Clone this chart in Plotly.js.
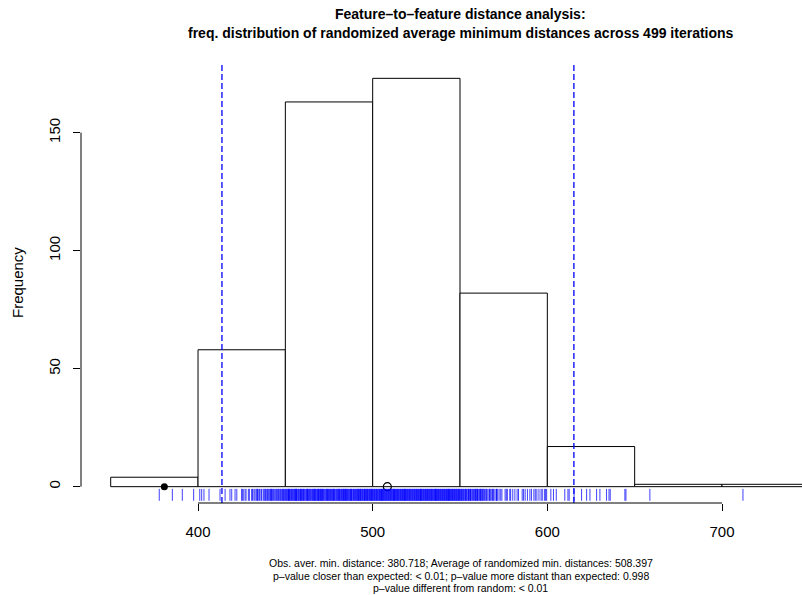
<!DOCTYPE html>
<html>
<head>
<meta charset="utf-8">
<script src="https://cdn.plot.ly/plotly-3.0.1.min.js"></script>
<style>html,body{margin:0;padding:0;background:#fff;}#chart{width:802px;height:595px;}</style>
</head>
<body>
<div id="chart"></div>
<script>
// ---- data ----
const breaks = [350, 400, 450, 500, 550, 600, 650, 700, 750];
const counts = [4, 58, 163, 173, 82, 17, 1, 1];
const xTicks = [400, 500, 600, 700];
const yTicks = [0, 50, 100, 150];
const ciBounds = [413.7, 615.2];
const observedDistance = 380.718;
const randomizedMean = 508.397;
const titleLines = [
  "Feature\u2013to\u2013feature distance analysis:",
  "freq. distribution of randomized average minimum distances across 499 iterations"
];
const yTitle = "Frequency";
const subLines = [
  "Obs. aver. min. distance: 380.718; Average of randomized min. distances: 508.397",
  "p\u2013value closer than expected: < 0.01; p\u2013value more distant than expected: 0.998",
  "p\u2013value different from random: < 0.01"
];
const rug350 = [377.8, 385.3, 391.0, 397.5];
const rug400 = [401.0, 402.1, 403.4, 406.3, 412.6, 415.5, 418.3, 419.3, 421.2, 422.2, 425.0, 425.9, 426.9, 428.8, 430.7, 432.6, 434.5, 436.4, 437.3, 438.3, 439.3, 440.2, 441.2, 443.1, 444.0, 445.9, 446.8, 448.7,
  425.3, 427.5, 429.4, 431.2, 432.0, 433.3, 434.0, 435.2, 436.0, 437.8, 438.6, 439.8, 440.7, 441.6, 442.0, 442.6, 443.5, 444.5, 445.0, 445.4, 446.2, 447.1, 447.5, 448.0, 448.3, 449.0, 449.4, 449.8, 433.8, 441.9];
const rug450 = [450.2, 450.5, 450.9, 451.1, 451.6, 451.8, 452.3, 452.5, 452.9, 453.4,
  453.6, 454.0, 454.3, 454.8, 455.0, 455.4, 455.9, 456.1, 456.5, 456.7,
  457.2, 457.5, 457.9, 458.3, 458.6, 458.8, 459.3, 459.7, 460.0, 460.4,
  460.6, 461.1, 461.3, 461.8, 462.2, 462.4, 462.9, 463.1, 463.5, 463.9,
  464.2, 464.6, 464.8, 465.3, 465.6, 466.0, 466.3, 466.5, 467.0, 467.2,
  467.7, 468.1, 468.3, 468.7, 469.0, 469.5, 469.8, 470.1, 470.4, 470.9,
  471.2, 471.4, 471.9, 472.1, 472.6, 472.8, 473.3, 473.6, 473.9, 474.4,
  474.6, 475.0, 475.3, 475.8, 476.0, 476.5, 476.7, 477.1, 477.6, 477.9,
  478.2, 478.5, 479.0, 479.2, 479.7, 480.0, 480.3, 480.6, 481.1, 481.3,
  481.7, 482.1, 482.3, 482.8, 483.0, 483.5, 483.8, 484.1, 484.4, 484.9,
  485.1, 485.6, 485.8, 486.2, 486.6, 486.9, 487.3, 487.5, 488.0, 488.2,
  488.7, 489.0, 489.3, 489.6, 490.1, 490.3, 490.8, 491.0, 491.4, 491.8,
  492.0, 492.5, 492.7, 493.2, 493.4, 493.8, 494.2, 494.4, 494.9, 495.1,
  495.5, 495.9, 496.2, 496.5, 496.8, 497.3, 497.5, 498.0, 498.2, 498.6,
  498.9, 499.3, 499.6, 499.8, 452.0, 455.6, 459.0, 462.7, 466.8, 470.6,
  474.2, 477.4, 480.8, 484.6, 487.8, 491.6, 495.3, 497.0, 499.1, 456.3, 468.9, 483.3, 493.0];
const rug500 = [500.1, 500.4, 500.8, 501.0, 501.3, 501.7, 502.0, 502.2, 502.6, 502.9,
  503.1, 503.5, 503.8, 504.0, 504.4, 504.7, 504.9, 505.3, 505.6, 505.8,
  506.2, 506.5, 506.7, 507.1, 507.4, 507.7, 508.0, 508.2, 508.6, 508.9,
  509.1, 509.5, 509.8, 510.1, 510.3, 510.7, 511.0, 511.2, 511.6, 511.9,
  512.1, 512.5, 512.8, 513.0, 513.4, 513.7, 514.0, 514.2, 514.6, 514.9,
  515.1, 515.5, 515.8, 516.0, 516.4, 516.7, 517.0, 517.2, 517.6, 517.9,
  518.1, 518.5, 518.8, 519.1, 519.3, 519.7, 520.0, 520.2, 520.6, 520.9,
  521.1, 521.5, 521.8, 522.0, 522.4, 522.7, 523.0, 523.2, 523.6, 523.9,
  524.2, 524.4, 524.8, 525.1, 525.3, 525.7, 526.0, 526.2, 526.6, 526.9,
  527.2, 527.4, 527.8, 528.1, 528.3, 528.7, 529.0, 529.3, 529.5, 529.9,
  530.2, 530.4, 530.8, 531.1, 531.4, 531.6, 532.0, 532.3, 532.5, 532.9,
  533.2, 533.5, 533.7, 534.1, 534.4, 534.6, 535.0, 535.3, 535.6, 535.8,
  536.2, 536.5, 536.7, 537.1, 537.4, 537.7, 537.9, 538.3, 538.6, 538.9,
  539.1, 539.5, 539.8, 540.0, 540.4, 540.7, 541.0, 541.2, 541.6, 541.9,
  542.2, 542.4, 542.8, 543.1, 543.3, 543.7, 544.0, 544.3, 544.5, 544.9,
  545.2, 545.5, 545.7, 546.1, 546.4, 546.7, 546.9, 547.3, 547.6, 547.9,
  548.2, 548.4, 548.8, 549.1, 549.3, 549.7, 549.9, 505.0, 512.3, 518.3,
  527.6, 536.0, 543.5];
const rug550 = [550.3, 550.8, 551.2, 551.6, 552.0, 552.4, 552.9, 553.3, 553.7, 554.1, 554.6, 555.0, 555.5, 555.9, 556.3, 556.8, 557.2, 557.7, 558.1, 558.5, 559.0, 559.4, 559.9, 560.3, 560.8, 561.2, 561.7, 562.1, 562.6, 563.2, 563.7, 564.1, 564.8, 565.4, 566.0, 566.7, 567.3, 567.9, 568.6, 569.4, 570.1, 570.9, 571.6, 572.4, 573.3,
  574.0, 575.8, 577.1, 578.5, 579.0, 580.2, 582.7, 583.5, 585.6, 586.4, 588.6, 590.0, 590.9, 592.3, 593.1, 594.0, 595.2, 596.4, 597.1, 598.3, 599.0, 599.6,
  551.0, 553.0, 554.9, 556.0, 558.8, 560.0, 561.9, 563.0, 565.0, 567.0, 569.0, 571.0, 576.5, 581.4, 587.3];
const rug600 = [602.0, 603.5, 605.1, 610.0, 611.8, 612.5, 615.3, 619.6, 622.5, 624.4, 628.2, 630.1, 633.9, 635.3, 636.0, 644.4, 645.0];
const rug650 = [658.7];
const rug700 = [712.0];

// ---- build ----
const rugValues = [].concat(rug350, rug400, rug450, rug500, rug550, rug600, rug650, rug700);
const mids = counts.map((c, i) => (breaks[i] + breaks[i + 1]) / 2);
const widths = counts.map((c, i) => breaks[i + 1] - breaks[i]);
const FONT = "Liberation Sans, Arial, Helvetica, sans-serif";

const traces = [
  {
    type: 'bar', x: mids, y: counts, width: widths,
    marker: {color: 'white', line: {color: 'black', width: 1}},
    hoverinfo: 'x+y', showlegend: false
  },
  {
    type: 'scatter', mode: 'markers', x: [observedDistance], y: [0],
    marker: {symbol: 'circle', size: 7, color: 'black'}, showlegend: false, cliponaxis: false
  },
  {
    type: 'scatter', mode: 'markers', x: [randomizedMean], y: [0],
    marker: {symbol: 'circle-open', size: 8, color: 'black', line: {width: 1.2}}, showlegend: false, cliponaxis: false
  }
];

const shapes = [];
rugValues.forEach(v => shapes.push({
  type: 'line', xref: 'x', yref: 'paper', x0: v, x1: v, y0: 0.005, y1: 0.032,
  line: {color: 'rgba(0,0,255,0.75)', width: 1}, layer: 'above'
}));
ciBounds.forEach(v => shapes.push({
  type: 'line', xref: 'x', yref: 'paper', x0: v, x1: v, y0: 0, y1: 1,
  line: {color: '#0000ff', width: 1.3, dash: '6px,3px'}
}));
// R-style axis lines (first to last tick)
shapes.push({type: 'line', xref: 'x', yref: 'paper', x0: xTicks[0], x1: xTicks[xTicks.length - 1], y0: 0, y1: 0,
  line: {color: 'black', width: 1}});
shapes.push({type: 'line', xref: 'paper', yref: 'y', x0: 0, x1: 0, y0: yTicks[0], y1: yTicks[yTicks.length - 1],
  line: {color: 'black', width: 1}});

const annotations = [
  {text: yTitle, xref: 'paper', yref: 'paper', x: 0, y: 0.5, xshift: -74, textangle: -90,
   showarrow: false, font: {family: FONT, size: 15, color: 'black'}}
];
titleLines.forEach((t, i) => annotations.push({
  text: '<b>' + t + '</b>', xref: 'paper', yref: 'paper', x: 0.527, y: 1, yanchor: 'middle', xanchor: 'center',
  yshift: 48 - i * 19, showarrow: false, font: {family: FONT, size: 14, color: 'black'}
}));
subLines.forEach((t, i) => annotations.push({
  text: t, xref: 'paper', yref: 'paper', x: 0.527, y: 0, yanchor: 'middle', xanchor: 'center',
  yshift: -(60 + i * 12.5), showarrow: false, font: {family: FONT, size: 10.5, color: 'black'}
}));

const layout = {
  width: 802, height: 595,
  margin: {l: 81, r: 0, t: 62, b: 92, pad: 0},
  paper_bgcolor: 'white', plot_bgcolor: 'white',
  showlegend: false,
  bargap: 0,
  xaxis: {
    range: [333.0, 745.8], tickvals: xTicks, ticktext: xTicks.map(String),
    showgrid: false, zeroline: false, showline: false,
    ticks: 'outside', ticklen: 7, tickwidth: 1, tickcolor: 'black',
    ticklabelstandoff: 8,
    tickfont: {family: FONT, size: 15, color: 'black'}, fixedrange: true
  },
  yaxis: {
    range: [-6.92, 179.92], tickvals: yTicks, ticktext: yTicks.map(String),
    showgrid: false, zeroline: false, showline: false,
    ticks: 'outside', ticklen: 7, tickwidth: 1, tickcolor: 'black',
    tickangle: -90, ticklabelstandoff: 7,
    tickfont: {family: FONT, size: 15, color: 'black'}, fixedrange: true
  },
  shapes: shapes,
  annotations: annotations
};

Plotly.newPlot('chart', traces, layout, {displayModeBar: false, staticPlot: true});
</script>
</body>
</html>
